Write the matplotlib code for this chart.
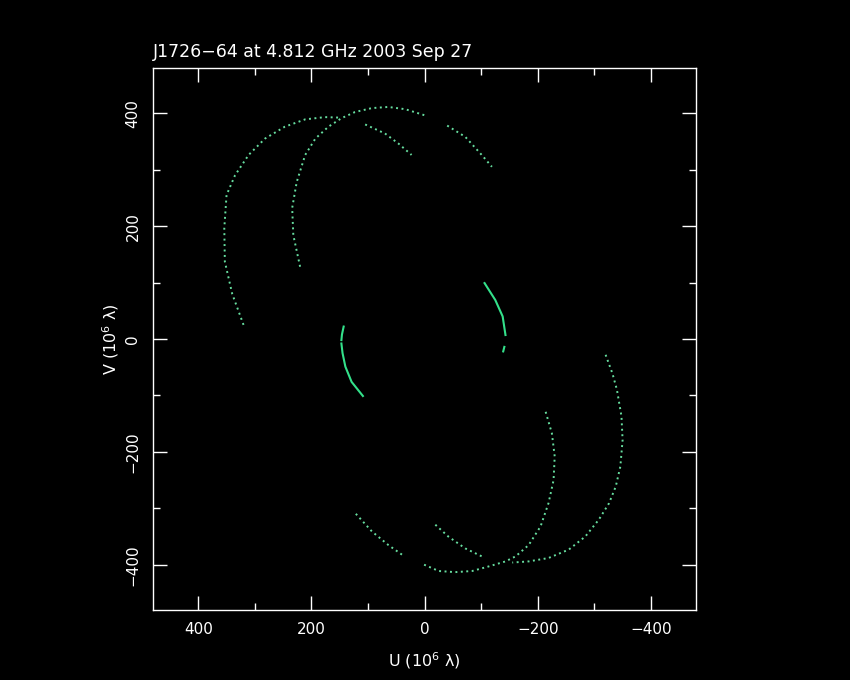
import matplotlib
matplotlib.use("Agg")
import matplotlib.pyplot as plt
from matplotlib.ticker import MultipleLocator

# uv tracks (units of 10^6 lambda)
# outer track, upper half
a1_u = [320, 340, 353, 354, 350, 335, 311, 282, 247, 211, 176, 147]
a1_v = [25, 80, 137, 196, 255, 290, 326, 355, 376, 389, 393, 392]
a2_u = [105, 70, 46, 23]
a2_v = [380, 364, 346, 326]
# second track, upper half
b1_u = [220, 232, 234, 226, 211, 193, 170, 147, 123, 93, 64, 34, -1]
b1_v = [128, 184, 232, 278, 326, 355, 376, 391, 402, 409, 411, 407, 396]
b2_u = [-40, -72, -101, -119]
b2_v = [378, 358, 326, 305]
# outer track, lower half
c1_u = [-320, -332, -340, -348, -350, -346, -338, -326, -308, -284, -255, -219, -184, -155]
c1_v = [-28, -61, -90, -137, -179, -226, -261, -291, -320, -350, -373, -388, -394, -396]
c2_u = [-19, -42, -72, -101]
c2_v = [-329, -350, -371, -385]
# second track, lower half
d1_u = [-214, -225, -230, -228, -219, -205, -184, -161, -143, -113, -84, -54, -25, 5]
d1_v = [-129, -167, -208, -250, -291, -332, -365, -385, -394, -403, -411, -413, -411, -398]
d2_u = [40, 64, 93, 123]
d2_v = [-382, -365, -341, -308]
# short baseline tracks
e1_u = [143, 146, 147]
e1_v = [22, 8, -2]
e2_u = [147, 145, 140, 129, 109]
e2_v = [-8, -25, -49, -76, -101]
f1_u = [-106, -125, -138, -143]
f1_v = [99, 69, 40, 7]
f2_u = [-141, -139]
f2_v = [-14, -22]

dotted = [(a1_u, a1_v), (a2_u, a2_v), (b1_u, b1_v), (b2_u, b2_v),
          (c1_u, c1_v), (c2_u, c2_v), (d1_u, d1_v), (d2_u, d2_v)]
solid = [(e1_u, e1_v), (e2_u, e2_v), (f1_u, f1_v), (f2_u, f2_v)]

fig = plt.figure(figsize=(8.5, 6.8), dpi=100, facecolor="black")
ax = fig.add_axes([0.18, 0.103, 0.639, 0.797], facecolor="black")

for u, v in dotted:
    ax.plot(u, v, color="#66dd9f", lw=1.4, linestyle=(0, (1, 1.8)))
for u, v in solid:
    ax.plot(u, v, color="#33e08a", lw=1.5)

ax.set_xlim(480, -480)
ax.set_ylim(-480, 480)

for s in ax.spines.values():
    s.set_color("white")
    s.set_linewidth(1.0)

ax.xaxis.set_major_locator(MultipleLocator(200))
ax.xaxis.set_minor_locator(MultipleLocator(100))
ax.yaxis.set_major_locator(MultipleLocator(200))
ax.yaxis.set_minor_locator(MultipleLocator(100))
ax.tick_params(which="both", direction="in", colors="white", top=True, right=True)
ax.tick_params(which="major", length=10, width=1, labelsize=11, pad=9)
ax.tick_params(which="minor", length=5, width=1)
for lab in ax.get_yticklabels():
    lab.set_rotation(90)
    lab.set_va("center")

ax.set_xlabel("U (10$^6$ λ)", color="white", fontsize=11.5, labelpad=9)
ax.set_ylabel("V (10$^6$ λ)", color="white", fontsize=11.5, labelpad=3)
ax.set_title("J1726−64 at 4.812 GHz 2003 Sep 27", color="white",
             fontsize=12.5, loc="left", pad=8)

fig.savefig("out.png", dpi=100, facecolor="black")
